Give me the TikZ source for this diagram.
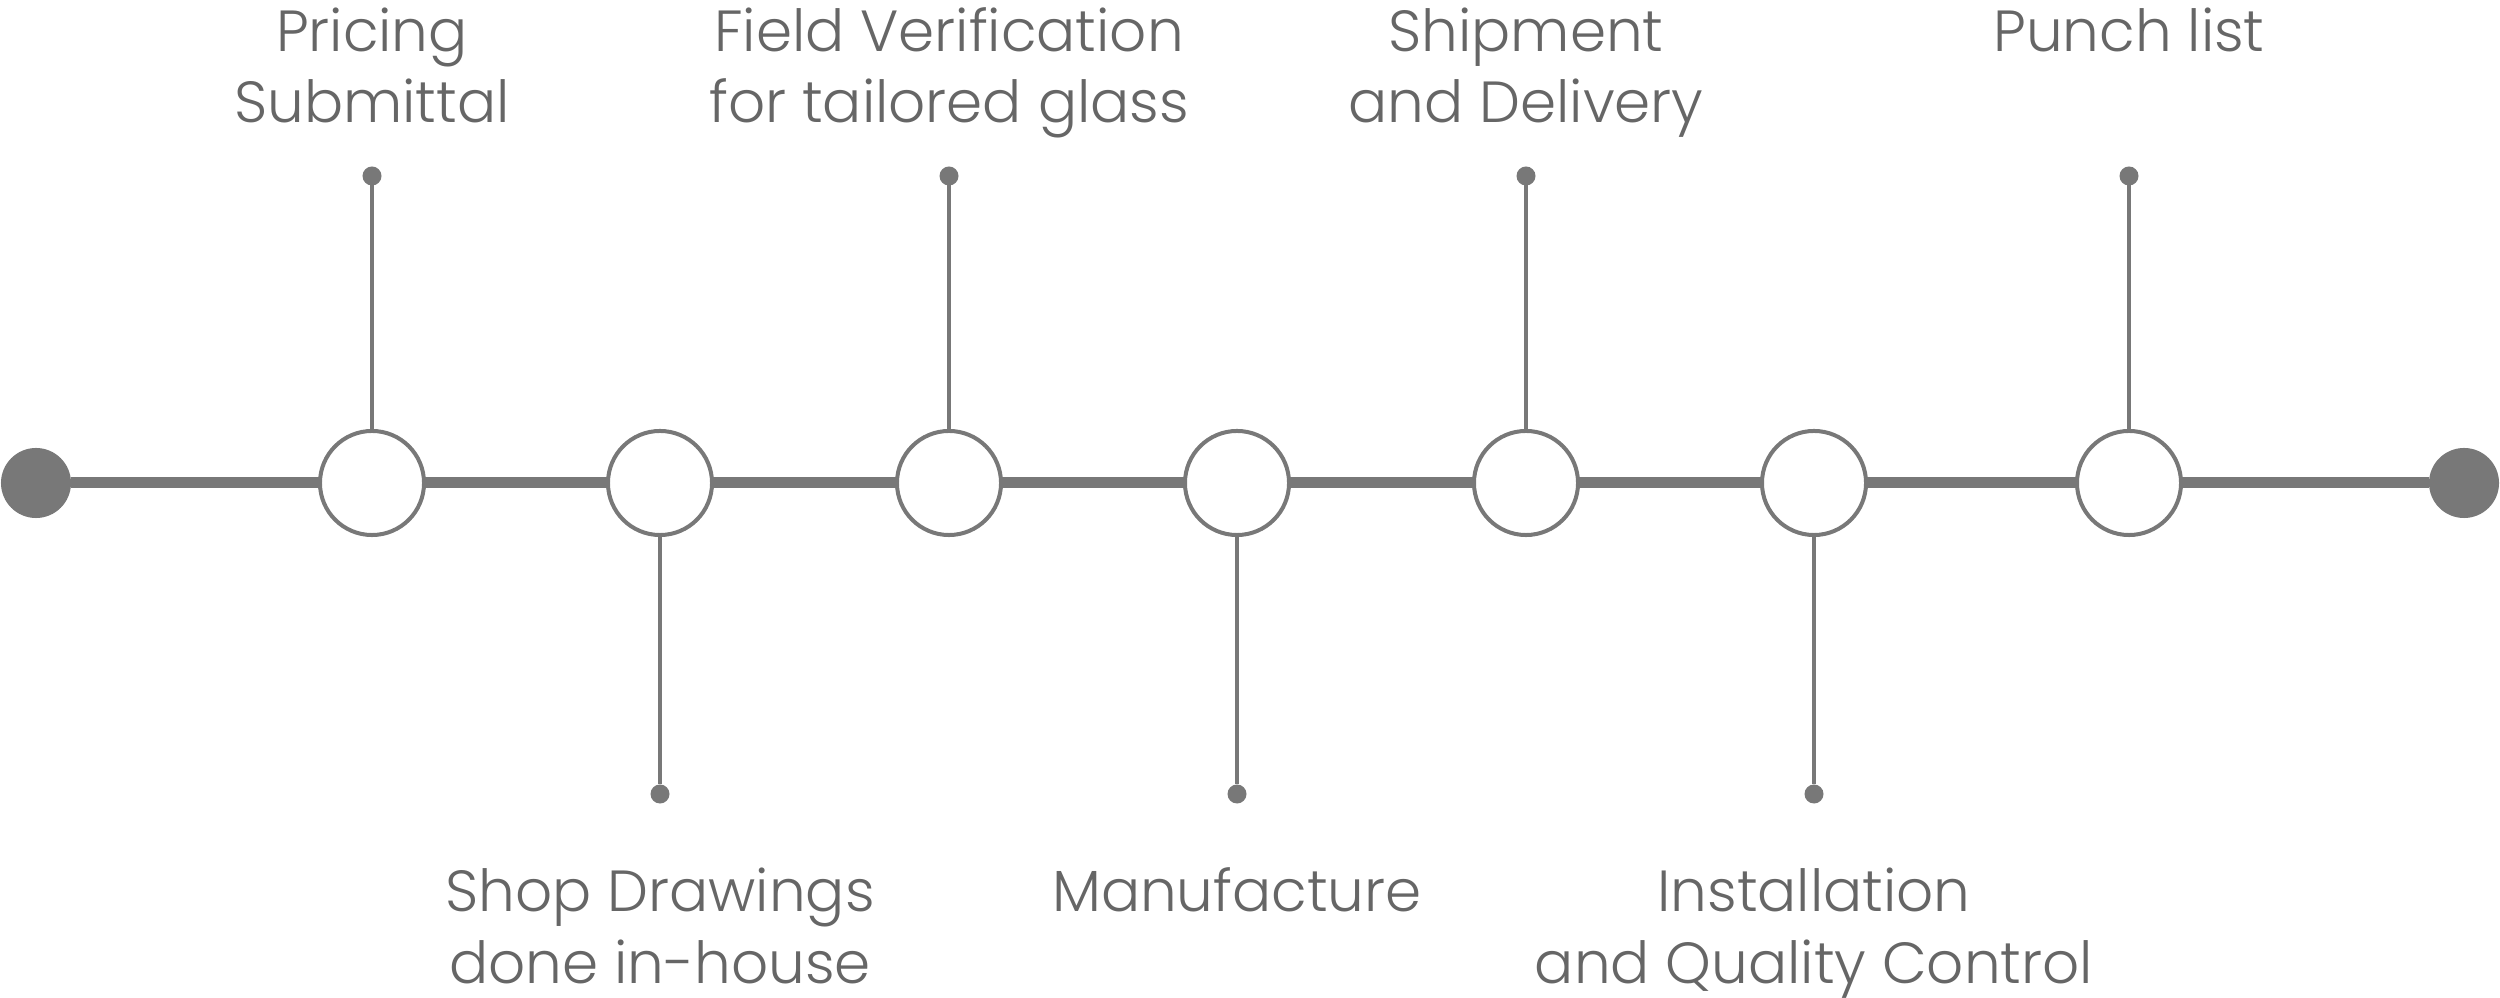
\documentclass[tikz,border=0pt]{standalone}
\usepackage{fontspec}
\setmainfont{Poppins Light}
\definecolor{lineg}{HTML}{787878}
\definecolor{textg}{HTML}{666666}
\begin{document}
\begin{tikzpicture}[x=0.01cm,y=-0.01cm,
  mainline/.style={draw=lineg,line width=0.11cm},
  stem/.style={draw=lineg,line width=0.04cm},
  stepcirc/.style={circle,draw=lineg,fill=white,line width=0.04cm,minimum size=1.04cm,inner sep=0pt,outer sep=0pt},
  enddot/.style={circle,fill=lineg,minimum size=0.7cm,inner sep=0pt,outer sep=0pt},
  tipdot/.style={circle,fill=lineg,minimum size=0.19cm,inner sep=0pt,outer sep=0pt},
  lbl/.style={text=textg,align=center,anchor=base,inner sep=0pt,font=\fontsize{16.5pt}{20.2pt}\selectfont}]
\useasboundingbox (0,0) rectangle (2500,998);
% nodes
\node[enddot] (e0) at (36,483) {};
\node[enddot] (e8) at (2464,483) {};
\node[stepcirc] (c1) at (372,483) {};
\node[stepcirc] (c2) at (660,483) {};
\node[stepcirc] (c3) at (949,483) {};
\node[stepcirc] (c4) at (1237,483) {};
\node[stepcirc] (c5) at (1526,483) {};
\node[stepcirc] (c6) at (1814,483) {};
\node[stepcirc] (c7) at (2129,483) {};
\node[tipdot] (t1) at (372,176) {};
\node[tipdot] (t3) at (949,176) {};
\node[tipdot] (t5) at (1526,176) {};
\node[tipdot] (t7) at (2129,176) {};
\node[tipdot] (t2) at (660,794) {};
\node[tipdot] (t4) at (1237,794) {};
\node[tipdot] (t6) at (1814,794) {};
% connectors
\draw[mainline] (e0) -- (c1) (c1) -- (c2) (c2) -- (c3) (c3) -- (c4) (c4) -- (c5) (c5) -- (c6) (c6) -- (c7) (c7) -- (e8);
\draw[stem] (c1) -- (t1);
\draw[stem] (c3) -- (t3);
\draw[stem] (c5) -- (t5);
\draw[stem] (c7) -- (t7);
\draw[stem] (c2) -- (t2);
\draw[stem] (c4) -- (t4);
\draw[stem] (c6) -- (t6);
% labels (base anchor = baseline of the last line)
\node[lbl] (l1) at (372,123) {Pricing\\Submittal};
\node[lbl] (l3) at (949,123) {Field Verification\\for tailored glass};
\node[lbl] (l5) at (1526,123) {Shipment\\and Delivery};
\node[lbl] (l7) at (2129,52) {Punch list};
\node[lbl] (l2) at (660,983) {Shop Drawings\\done in-house};
\node[lbl] (l4) at (1237,912) {Manufacture};
\node[lbl] (l6) at (1814,983) {Installation\\and Quality Control};
\end{tikzpicture}
\end{document}
